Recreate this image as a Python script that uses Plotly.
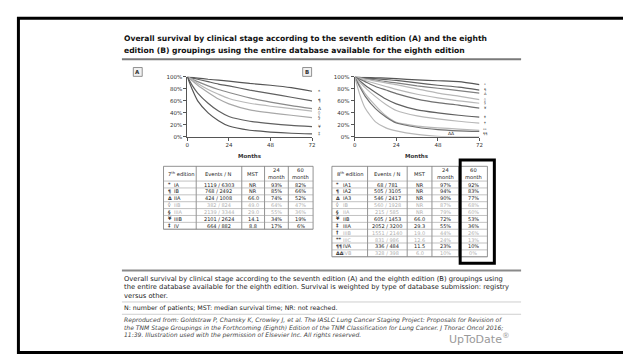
import plotly.graph_objects as go

W, H = 631, 354
FONT = "DejaVu Sans"

# ---------------- data ----------------
months = [0, 3, 6, 12, 18, 24, 36, 48, 60, 72]

# 7th edition survival (%)
s7_IA = [100, 99, 98, 96, 94.5, 93, 89, 86, 82, 76]
s7_IB = [100, 98, 96, 92, 88, 85, 78, 72, 66, 60]
s7_IIA = [100, 96, 92, 85, 79, 74, 65, 58, 52, 47]
s7_IIB = [100, 95, 89, 79, 71, 64, 56, 51, 47, 43]
s7_IIIA = [100, 93, 86, 74, 63, 55, 45, 40, 36, 32]
s7_IIIB = [100, 85, 73, 56, 43, 34, 26, 22, 19, 17]
s7_IV = [100, 78, 60, 40, 27, 18, 11, 8, 6, 5]

# 8th edition survival (%)
s8_IA1 = [100, 99.5, 99, 98.5, 98, 97, 95, 93.5, 92, 87]
s8_IA2 = [100, 99, 98, 97, 95.5, 94, 90, 86, 83, 78]
s8_IA3 = [100, 99, 97, 95, 92, 90, 85, 81, 77, 73]
s8_IB = [100, 98, 96, 93, 90, 87, 80, 73, 68, 62]
s8_IIA = [100, 97, 94, 89, 84, 79, 71, 65, 60, 56]
s8_IIB = [100, 96, 92, 84, 78, 72, 63, 57, 53, 48]
s8_IIIA = [100, 93, 86, 74, 63, 55, 45, 40, 36, 33]
s8_IIIB = [100, 91, 82, 67, 54, 44, 35, 30, 26, 23]
s8_IIIC = [100, 86, 72, 52, 35, 24, 18, 15, 13, 11]
s8_IVA = [100, 83, 68, 47, 33, 23, 16, 12, 10, 9]
s8_IVB = [100, 70, 48, 25, 15, 10, 4, 1, 0, 0]

stages7 = ["IA", "IB", "IIA", "IIB", "IIIA", "IIIB", "IV"]
symbols7 = ["*", "¶", "Δ", "◊", "§", "¥", "‡"]
events7 = ["1119 / 6303", "768 / 2492", "424 / 1008", "382 / 824", "2139 / 3344", "2101 / 2624", "664 / 882"]
mst7 = ["NR", "NR", "66.0", "49.0", "29.0", "14.1", "8.8"]
m24_7 = ["93%", "85%", "74%", "64%", "55%", "34%", "17%"]
m60_7 = ["82%", "66%", "52%", "47%", "36%", "19%", "6%"]

stages8 = ["IA1", "IA2", "IA3", "IB", "IIA", "IIB", "IIIA", "IIIB", "IIIC", "IVA", "IVB"]
symbols8 = ["*", "¶", "Δ", "◊", "§", "¥", "‡", "†", "**", "¶¶", "ΔΔ"]
events8 = ["68 / 781", "505 / 3105", "546 / 2417", "560 / 1928", "215 / 585", "605 / 1453",
           "2052 / 3200", "1551 / 2140", "831 / 986", "336 / 484", "328 / 398"]
mst8 = ["NR", "NR", "NR", "NR", "NR", "66.0", "29.3", "19.0", "12.6", "11.5", "6.0"]
m24_8 = ["97%", "94%", "90%", "87%", "79%", "72%", "55%", "44%", "24%", "23%", "10%"]
m60_8 = ["92%", "83%", "77%", "68%", "60%", "53%", "36%", "26%", "13%", "10%", "0%"]

header7 = ["7<sup>th</sup> edition", "Events / N", "MST", "24<br>month", "60<br>month"]
header8 = ["8<sup>th</sup> edition", "Events / N", "MST", "24<br>month", "60<br>month"]
y_ticks = [0, 20, 40, 60, 80, 100]
y_ticktext = ["0%", "20%", "40%", "60%", "80%", "100%"]
x_ticks = [0, 24, 48, 72]

title_lines = ["Overall survival by clinical stage according to the seventh edition (A) and the eighth",
               "edition (B) groupings using the entire database available for the eighth edition"]
caption_lines = ["Overall survival by clinical stage according to the seventh edition (A) and the eighth edition (B) groupings using",
                 "the entire database available for the eighth edition. Survival is weighted by type of database submission: registry",
                 "versus other."]
abbrev_line = "N: number of patients; MST: median survival time; NR: not reached."
source_lines = ["Reproduced from: Goldstraw P, Chansky K, Crowley J, et al. The IASLC Lung Cancer Staging Project: Proposals for Revision of",
                "the TNM Stage Groupings in the Forthcoming (Eighth) Edition of the TNM Classification for Lung Cancer. J Thorac Oncol 2016;",
                "11:39. Illustration used with the permission of Elsevier Inc. All rights reserved."]

series7 = [s7_IA, s7_IB, s7_IIA, s7_IIB, s7_IIIA, s7_IIIB, s7_IV]
series8 = [s8_IA1, s8_IA2, s8_IA3, s8_IB, s8_IIA, s8_IIB, s8_IIIA, s8_IIIB, s8_IIIC, s8_IVA, s8_IVB]

# ---------------- styles ----------------
DARK, MID, LIGHT = "#555555", "#8a8a8a", "#b8b8b8"
colors7 = [DARK, "#606060", MID, LIGHT, "#a8a8a8", "#606060", DARK]
colors8 = [DARK, "#606060", "#808080", LIGHT, LIGHT, "#707070", "#606060", LIGHT, LIGHT, "#707070", LIGHT]
light7 = [False, False, False, True, True, False, False]
light8 = [False, False, False, True, True, False, False, True, True, False, True]

PLOT_TOP, PLOT_BOTTOM = 67, 128


def px(x):
    return x / W


def py(y):
    return 1 - y / H


fig = go.Figure()

# ---------------- survival curves ----------------
for name, s, c in zip(stages7, series7, colors7):
    fig.add_trace(go.Scatter(x=months, y=s, mode="lines", name=name,
                             line=dict(color=c, width=1.2, shape="spline", smoothing=0.6),
                             xaxis="x", yaxis="y", showlegend=False, hoverinfo="skip"))
for name, s, c in zip(stages8, series8, colors8):
    fig.add_trace(go.Scatter(x=months, y=s, mode="lines", name=name,
                             line=dict(color=c, width=1.2, shape="spline", smoothing=0.6),
                             xaxis="x2", yaxis="y2", showlegend=False, hoverinfo="skip"))

axis_common = dict(range=[0, 72], tickvals=x_ticks, ticks="outside", ticklen=3, tickwidth=1,
                   tickcolor="#555", showline=True, linecolor="#555", linewidth=1,
                   showgrid=False, zeroline=False, tickfont=dict(family=FONT, size=5.5, color="#333"),
                   fixedrange=True)
yaxis_common = dict(range=[0, 100], tickvals=y_ticks, ticktext=y_ticktext, ticks="outside", ticklen=3,
                    tickwidth=1, tickcolor="#555", showline=True, linecolor="#555", linewidth=1,
                    showgrid=False, zeroline=False, tickfont=dict(family=FONT, size=5.5, color="#333"),
                    fixedrange=True)

fig.update_layout(
    width=W, height=H, margin=dict(l=0, r=0, t=0, b=0),
    paper_bgcolor="white", plot_bgcolor="white",
    xaxis=dict(domain=[px(179), px(305)], anchor="y", **axis_common),
    yaxis=dict(domain=[py(PLOT_BOTTOM), py(PLOT_TOP)], anchor="x", **yaxis_common),
    xaxis2=dict(domain=[px(348), px(474)], anchor="y2", **axis_common),
    yaxis2=dict(domain=[py(PLOT_BOTTOM), py(PLOT_TOP)], anchor="x2", **yaxis_common),
)

annotations = []
shapes = []


def text(x, y, t, size=6, color="#222", bold=False, italic=False, anchor="left", family=FONT, **kw):
    if bold:
        t = "<b>" + t + "</b>"
    if italic:
        t = "<i>" + t + "</i>"
    annotations.append(dict(x=px(x), y=py(y), xref="paper", yref="paper", text=t, showarrow=False,
                            xanchor=anchor, yanchor="middle",
                            font=dict(family=family, size=size, color=color), **kw))


def hline(x0, x1, y, color, width):
    shapes.append(dict(type="line", xref="paper", yref="paper", x0=px(x0), x1=px(x1),
                       y0=py(y), y1=py(y), line=dict(color=color, width=width)))


def vline(x, y0, y1, color, width):
    shapes.append(dict(type="line", xref="paper", yref="paper", x0=px(x), x1=px(x),
                       y0=py(y0), y1=py(y1), line=dict(color=color, width=width)))


# outer frame
shapes.append(dict(type="rect", xref="paper", yref="paper", x0=px(8.5), x1=px(623.5), y0=py(7.5), y1=py(347.5),
                   line=dict(color="black", width=3)))

# title
text(113, 27.5, title_lines[0], size=7.6, color="#111", bold=True)
text(113, 40.5, title_lines[1], size=7.6, color="#111", bold=True)
hline(113, 516, 49, "#7a7a7a", 2)

# panel letters
for lx, letter in [(129, "A"), (300, "B")]:
    shapes.append(dict(type="rect", xref="paper", yref="paper", x0=px(lx - 4.5), x1=px(lx + 4.5),
                       y0=py(57.5), y1=py(66.5), line=dict(color="#777", width=0.8), fillcolor="#f2f2f2"))
    text(lx, 62, letter, size=5.5, color="#333", bold=True, anchor="center")

# axis titles
text(242, 148, "Months", size=5.5, color="#333", bold=True, anchor="center")
text(411, 148, "Months", size=5.5, color="#333", bold=True, anchor="center")


# curve end symbols, spread apart in pixel space so they do not collide
def spread(values, gap):
    ypix = [PLOT_BOTTOM - v / 100 * (PLOT_BOTTOM - PLOT_TOP) for v in values]
    order = sorted(range(len(ypix)), key=lambda i: ypix[i])
    out = ypix[:]
    last = -1e9
    for i in order:
        out[i] = max(out[i], last + gap)
        last = out[i]
    return out


end7 = spread([s[-1] for s in series7], 4.6)
for sym, yp in zip(symbols7, end7):
    text(312, yp, sym, size=4.4, color="#333", anchor="center")

end8_vals = [s[-1] for s in series8[:-1]]
end8 = spread(end8_vals, 3.6)
for sym, yp in zip(symbols8[:-1], end8):
    text(480, yp, sym, size=3.6, color="#333", anchor="center")
annotations.append(dict(x=56, y=series8[-1][-1], xref="x2", yref="y2", text=symbols8[-1], showarrow=False,
                        yshift=3.5, xanchor="center", yanchor="middle",
                        font=dict(family=FONT, size=4.5, color="#333")))


# ---------------- tables ----------------
def draw_table(cols, top, header, symbols, stages, events, mst, m24, m60, light):
    head_h, row_h = 15, 7
    n = len(stages)
    bottom = top + head_h + n * row_h
    for cx in cols:
        vline(cx, top, bottom, "#777", 0.8)
    hline(cols[0], cols[-1], top, "#777", 0.8)
    hline(cols[0], cols[-1], bottom, "#777", 0.8)
    for r in range(n + 1):
        hline(cols[0], cols[-1], top + head_h + r * row_h, "#999", 0.6)
    hy = top + head_h / 2
    text(cols[0] + 3, hy, header[0], size=5.2, color="#222")
    for j in range(1, 5):
        text((cols[j] + cols[j + 1]) / 2, hy, header[j], size=5.2, color="#222", anchor="center")
    for r in range(n):
        yc = top + head_h + r * row_h + row_h / 2
        col = "#b0b0b0" if light[r] else "#222"
        text(cols[0] + 2, yc, "<b>" + symbols[r] + "</b>", size=4.8, color="#333")
        text(cols[0] + 9, yc, stages[r], size=5.0, color=col)
        vals = [events[r], mst[r], m24[r], m60[r]]
        for j, v in enumerate(vals, start=1):
            text((cols[j] + cols[j + 1]) / 2, yc, v, size=5.0, color=col, anchor="center")


cols7 = [155, 188, 234, 257, 281, 306]
cols8 = [325, 361, 401, 426, 453, 482]
draw_table(cols7, 158, header7, symbols7, stages7, events7, mst7, m24_7, m60_7, light7)
draw_table(cols8, 158, header8, symbols8, stages8, events8, mst8, m24_8, m60_8, light8)

# highlight box around 60 month column
shapes.append(dict(type="rect", xref="paper", yref="paper", x0=px(454.5), x1=px(489), y0=py(151.5), y1=py(256.5),
                   line=dict(color="black", width=3)))

# ---------------- caption ----------------
hline(113, 516, 264, "#8a8a8a", 2)
for i, line in enumerate(caption_lines):
    text(113, 272.5 + i * 8.7, line, size=6.75, color="#222")
hline(113, 516, 296, "#cfcfcf", 1)
text(113, 302, abbrev_line, size=6.3, color="#222")
hline(113, 516, 308.5, "#cfcfcf", 1)
for i, line in enumerate(source_lines):
    text(113, 314.5 + i * 7.6, line, size=6.05, color="#444", italic=True)
text(507, 333, "UpToDate<sup>®</sup>", size=11, color="#9a9a9a", anchor="right")

fig.update_layout(annotations=annotations, shapes=shapes)
fig.write_html("out.html")
